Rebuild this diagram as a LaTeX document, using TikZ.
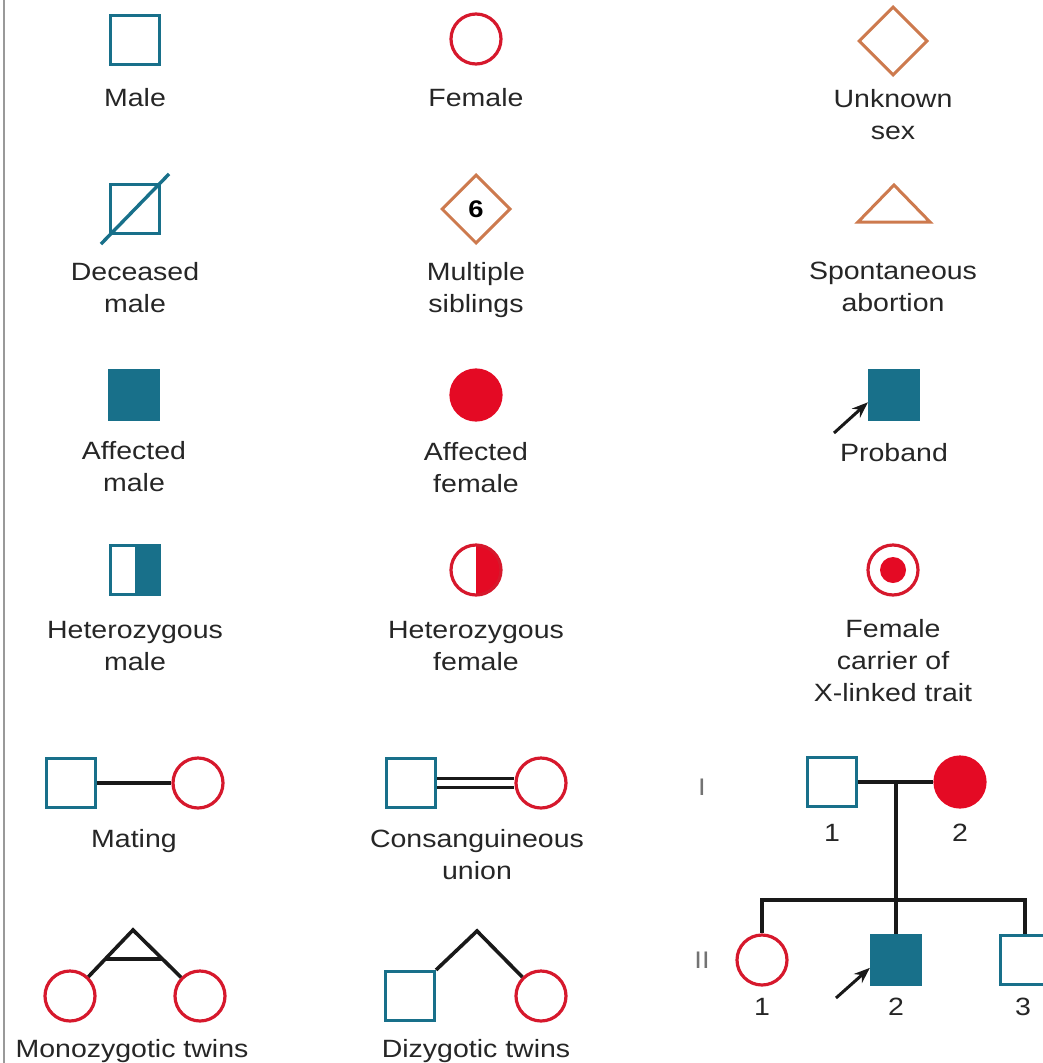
\documentclass[tikz,border=0pt]{standalone}
\usepackage{fontspec}
\setmainfont{Liberation Sans}[FakeStretch=1.14]
\usetikzlibrary{shapes.geometric,arrows.meta,calc}

\definecolor{maleblue}{RGB}{24,112,138}
\definecolor{femred}{RGB}{214,24,44}
\definecolor{fillred}{RGB}{228,10,36}
\definecolor{unkorange}{RGB}{205,122,78}

\begin{document}
\begin{tikzpicture}[x=1pt,y=-1pt,
  lbl/.style={anchor=north, align=center, inner sep=0pt,
              font=\fontsize{25}{32}\selectfont, text=black!85},
  num/.style={anchor=center, inner sep=0pt,
              font=\fontsize{25}{32}\selectfont, text=black!85},
  gen/.style={anchor=center, inner sep=0pt,
              font=\fontsize{24}{28}\selectfont, text=black!55},
  male/.style={rectangle, draw=maleblue, line width=3.2pt,
               minimum size=49pt, inner sep=0pt},
  female/.style={circle, draw=femred, line width=3.2pt,
                 minimum size=50pt, inner sep=0pt},
  unknown/.style={diamond, draw=unkorange, line width=3pt,
                  minimum size=69pt, inner sep=0pt},
  affm/.style={male, fill=maleblue},
  afff/.style={female, draw=fillred, fill=fillred},
  hetm/.style={male, path picture={\fill[maleblue]
      (path picture bounding box.south) rectangle
      (path picture bounding box.north east);}},
  hetf/.style={female, path picture={\fill[fillred]
      (path picture bounding box.south) rectangle
      (path picture bounding box.north east);}},
  link/.style={draw=black!90, line width=3.6pt},
  pointer/.style={draw=black!90, line width=3pt,
                  -{Stealth[length=16pt,width=12pt]}},
]
\useasboundingbox (0,0) rectangle (1043,1063);
\clip (0,0) rectangle (1043,1063);

% frame edge on the left
\draw[black!40, line width=2.4pt] (4,0) -- (4,1063);

% ---- row 1 ----
\node[male] (m) at (135,40) {};
\node[lbl] (mL) at (135,88) {Male};
\node[female] (f) at (476,39) {};
\node[lbl] (fL) at (476,88) {Female};
\node[unknown] (u) at (893,41) {};
\node[lbl] (uL) at (893,89) {Unknown\\sex};

% ---- row 2 ----
\node[male] (dm) at (135,209) {};
\draw[maleblue, line width=3.4pt]
  ($(dm.south west)+(-8,9)$) -- ($(dm.north east)+(8,-9)$);
\node[lbl] (dmL) at (135,262) {Deceased\\male};
\node[unknown, font=\fontsize{24}{24}\selectfont\bfseries] (ms) at (476,209) {6};
\node[lbl] (msL) at (476,262) {Multiple\\siblings};
\coordinate (sa) at (894,204);
\draw[unkorange, line width=3pt, line join=miter]
  ($(sa)+(-36,18)$) -- ($(sa)+(0,-19)$) -- ($(sa)+(36,18)$) -- cycle;
\node[lbl] (saL) at (893,262) {Spontaneous\\abortion};

% ---- row 3 ----
\node[affm] (am) at (134,395) {};
\node[lbl] (amL) at (134,441) {Affected\\male};
\node[afff] (af) at (476,395) {};
\node[lbl] (afL) at (476,442) {Affected\\female};
\node[affm] (pb) at (894,395) {};
\coordinate (pbtail) at (834,433);
\draw[pointer] (pbtail) -- ($(pb.south west)!0.36!(pb.north west)$);
\node[lbl] (pbL) at (894,443) {Proband};

% ---- row 4 ----
\node[hetm] (hm) at (135,570) {};
\node[lbl] (hmL) at (135,621) {Heterozygous\\male};
\node[hetf] (hf) at (476,570) {};
\node[lbl] (hfL) at (476,621) {Heterozygous\\female};
\node[female] (cr) at (893,570) {};
\node[circle, fill=fillred, minimum size=26pt, inner sep=0pt] (crd) at (cr.center) {};
\node[lbl] (crL) at (893,619) {Female\\carrier of\\X-linked trait};

% ---- row 5 ----
\node[male] (mt1) at (71,783) {};
\node[female] (mt2) at (198,783) {};
\draw[link] (mt1) -- (mt2);
\node[lbl] (mtL) at (134,829) {Mating};

\node[male] (cs1) at (411,783) {};
\node[female] (cs2) at (541,783) {};
\draw[link, line width=3pt] ([yshift=4.2pt]cs1.east) -- ([yshift=4.2pt]cs2.west);
\draw[link, line width=3pt] ([yshift=-4.2pt]cs1.east) -- ([yshift=-4.2pt]cs2.west);
\node[lbl] (csL) at (477,829) {Consanguineous\\union};

% ---- row 6 ----
\node[female] (mz1) at (70,996) {};
\node[female] (mz2) at (200,996) {};
\coordinate (mzapex) at (133,930);
\draw[link, line join=miter] (mz1) -- (mzapex) -- (mz2);
\draw[link, line width=3.2pt]
  ($(mzapex)!0.44!(mz1.center)$) -- ($(mzapex)!0.44!(mz2.center)$);
\node[lbl] (mzL) at (132,1039) {Monozygotic twins};

\node[male] (dz1) at (410,996) {};
\node[female] (dz2) at (541,996) {};
\coordinate (dzapex) at (477,931);
\draw[link, line join=miter] (dz1.north east) -- (dzapex) -- (dz2);
\node[lbl] (dzL) at (476,1039) {Dizygotic twins};

% ---- small pedigree ----
\node[gen] (g1) at (702,787) {I};
\node[gen] (g2) at (702,960) {II};

\node[male] (i1) at (832,782) {};
\node[afff] (i2) at (960,782) {};
\draw[link] (i1) -- (i2);
\coordinate (cm) at (896,782);
\coordinate (sib) at (896,900);
\draw[link] (cm) -- (sib);

\node[female] (ii1) at (762,960) {};
\node[affm] (ii2) at (896,960) {};
\node[male] (ii3) at (1025,960) {};
\draw[link, line cap=rect] (ii1.north |- sib) -- (ii3.north |- sib);
\draw[link] (ii1.north |- sib) -- (ii1.north);
\draw[link] (sib) -- (ii2.north);
\draw[link] (ii3.north |- sib) -- (ii3.north);

\coordinate (ii2tail) at (836,998);
\draw[pointer] (ii2tail) -- ($(ii2.south west)!0.35!(ii2.north west)$);

\node[num] (n11) at (832,833) {1};
\node[num] (n12) at (960,833) {2};
\node[num] (n21) at (762,1007) {1};
\node[num] (n22) at (896,1007) {2};
\node[num] (n23) at (1023,1007) {3};
\end{tikzpicture}
\end{document}
